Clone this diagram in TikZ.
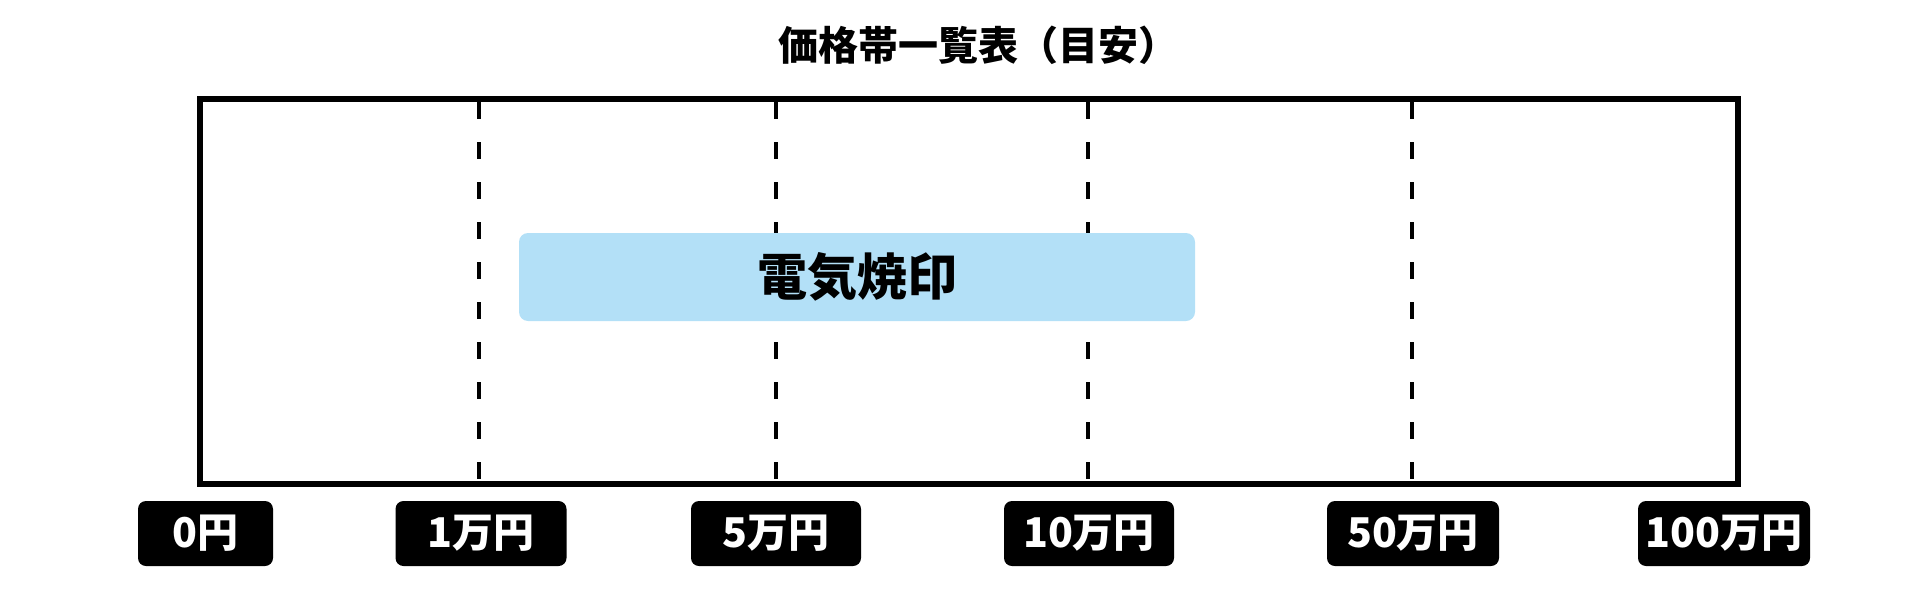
\documentclass[tikz,border=0pt]{standalone}
\usepackage{fontspec}
\setmainfont{Noto Sans CJK JP}
\usepackage{xcolor}
\usetikzlibrary{positioning,calc}
\definecolor{bandblue}{RGB}{179,224,247}
\tikzset{
  frame/.style={draw, line width=6.5pt, inner sep=0pt, outer sep=0pt},
  tickline/.style={line width=3.5pt, dash pattern=on 17pt off 23pt, dash phase=-3pt},
  bandbox/.style={fill=bandblue, rounded corners=9pt, inner sep=0pt, font=\fontsize{50}{54}\selectfont\bfseries},
  pricelbl/.style={fill=black, text=white, rounded corners=8pt, inner sep=0pt, minimum height=65pt, font=\fontsize{41}{44}\selectfont\bfseries}
}

\begin{document}
\begin{tikzpicture}[x=1pt, y=-1pt]
\useasboundingbox (0,0) rectangle (1920,600);
% title
\node[font=\fontsize{40}{44}\selectfont\bfseries] (title) at (978,45) {価格帯一覧表（目安）};
% outer frame
\node[frame, minimum width=1538pt, minimum height=385pt] (box) at (969,291.5) {};
% tick positions
\coordinate (p0) at (200,0);
\coordinate (p1) at (479,0);
\coordinate (p2) at (776,0);
\coordinate (p3) at (1088,0);
\coordinate (p4) at (1412,0);
\coordinate (p5) at (1738,0);
\foreach \i in {1,...,4}
  \draw[tickline] (box.north -| p\i) -- (box.south -| p\i);
% price band
\node[bandbox, minimum width=676pt, minimum height=88pt] (band) at (857,277) {電気焼印};
% price labels
\node[pricelbl, minimum width=135pt] (l0) at (205.5,533.5) {0円};
\node[pricelbl, minimum width=171pt] (l1) at (481,533.5) {1万円};
\node[pricelbl, minimum width=170pt] (l2) at (776,533.5) {5万円};
\node[pricelbl, minimum width=170pt] (l3) at (1089,533.5) {10万円};
\node[pricelbl, minimum width=172pt] (l4) at (1413,533.5) {50万円};
\node[pricelbl, minimum width=172pt] (l5) at (1724,533.5) {100万円};
\end{tikzpicture}
\end{document}
